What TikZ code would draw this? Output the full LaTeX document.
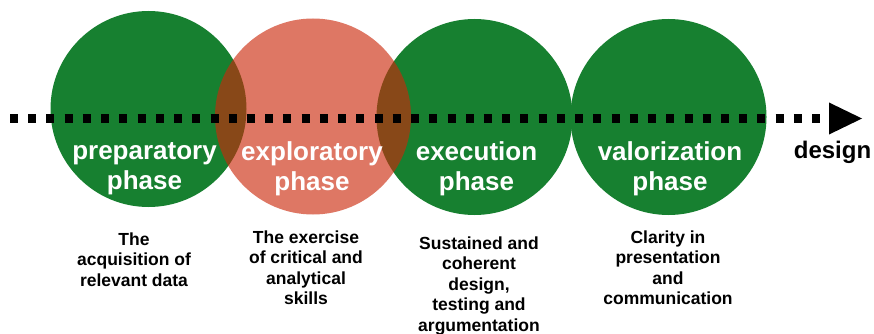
\documentclass[tikz,border=0pt]{standalone}
\usepackage{fontspec}
\setmainfont{Liberation Sans}
\definecolor{phasegreen}{RGB}{23,128,48}
\definecolor{phasered}{RGB}{203,40,10}
\begin{document}
\begin{tikzpicture}[x=1pt,y=-1pt,
  phase/.style={circle, minimum size=196pt, inner sep=0pt, fill=phasegreen},
  % multi-line nodes: the base anchor sits on the last line
  phaselabel/.style={text=white, font=\bfseries\fontsize{26}{30}\selectfont,
    align=center, anchor=base, inner sep=0pt},
  note/.style={font=\bfseries\fontsize{17.5}{20.5}\selectfont,
    align=center, anchor=base, inner sep=0pt},
  timeline/.style={line width=8.5pt, dash pattern=on 8pt off 10.23pt},
  tiphead/.style={fill=black}]
\useasboundingbox (0,0) rectangle (874,334);
\fill[white] (0,0) rectangle (874,334);

% the four phase discs; the exploratory one is translucent over its neighbours
\node[phase] (prep) at (148.5,109) {};
\node[phase] (exec) at (474.5,117) {};
\node[phase] (valo) at (668.5,117) {};
\node[phase, fill=phasered, fill opacity=0.63] (expl) at (313,116.5) {};

% dotted time axis with its arrowhead
\coordinate (tstart) at (10,118.5);
\coordinate (tbase) at (822,118.5);
\coordinate (tip) at (829,118.5);
\draw[timeline] (tstart) -- (tbase);
\fill[tiphead] (tip) ++(0,-16) -- ++(33,16) -- ++(-33,16) -- cycle;
\node[font=\bfseries\fontsize{24}{28}\selectfont, anchor=base, inner sep=0pt]
  (axislabel) at (832.5,158) {design};

% phase names
\node[phaselabel] (prepl) at (144.5,189) {preparatory\\phase};
\node[phaselabel] (expll) at (312,190) {exploratory\\phase};
\node[phaselabel] (execl) at (476.5,190) {execution\\phase};
\node[phaselabel] (valol) at (670,190) {valorization\\phase};

% descriptions under each phase
\node[note] (prepn) at (134,286) {The\\acquisition of\\relevant data};
\node[note] (expln) at (306,304.5) {The exercise\\of critical and\\analytical\\skills};
\node[note] (execn) at (479,331) {Sustained and\\coherent\\design,\\testing and\\argumentation};
\node[note] (valon) at (668,304.5) {Clarity in\\presentation\\and\\communication};
\end{tikzpicture}
\end{document}
